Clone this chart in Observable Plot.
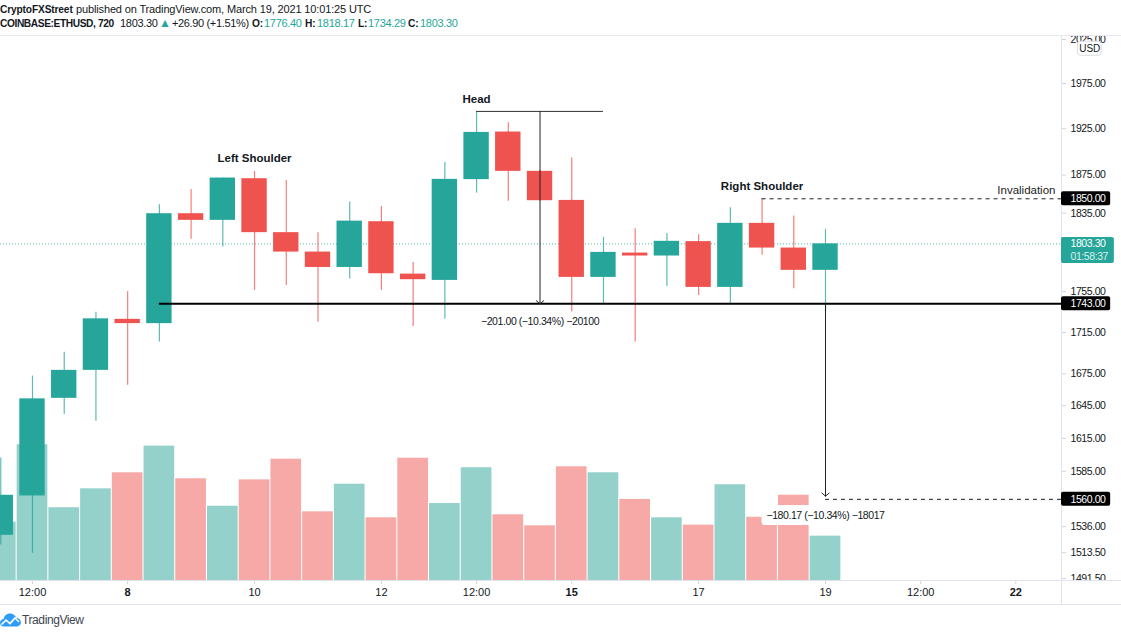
<!DOCTYPE html>
<html>
<head>
<meta charset="utf-8">
<script src="https://cdn.jsdelivr.net/npm/d3@7"></script>
<script src="https://cdn.jsdelivr.net/npm/@observablehq/plot@0.6"></script>
<style>
html,body{margin:0;padding:0;background:#fff;width:1121px;height:632px;overflow:hidden;font-family:"Liberation Sans",sans-serif;color:#131722}
#head{height:35px;border-bottom:1px solid #e6e8ee;font-size:11px;line-height:15px;white-space:nowrap;position:relative}
#head span{position:absolute;letter-spacing:-.3px}
#head b{font-weight:700;font-size:10.2px;letter-spacing:-.15px}
#head .c b{letter-spacing:-.4px}
#head .t{color:#26a69a}
#chart{height:568px}
#chart svg{display:block}
#chart [font-size="10.5"]{letter-spacing:-.42px}
#foot{height:27px;border-top:1px solid #e0e3eb;position:relative;font-size:12px;letter-spacing:-.4px;color:#3d4450}
#foot svg{position:absolute;left:0;top:8px}
#foot span{position:absolute;left:22px;top:8px}
</style>
</head>
<body>
<div id="head">
<span style="left:0;top:2px"><b>CryptoFXStreet</b></span>
<span style="left:76px;top:2px;letter-spacing:-.14px">published on TradingView.com, March 19, 2021 10:01:25 UTC</span>
<span class="c" style="left:0;top:16px"><b>COINBASE:ETHUSD, 720</b></span>
<span style="left:120px;top:16px">1803.30</span>
<span class="t" style="left:159px;top:16px;font-size:12px;letter-spacing:0">▲</span>
<span style="left:172px;top:16px;letter-spacing:-.35px">+26.90 (+1.51%)</span>
<span style="left:252px;top:16px"><b>O:</b></span><span class="t" style="left:264px;top:16px">1776.40</span>
<span style="left:305px;top:16px"><b>H:</b></span><span class="t" style="left:317px;top:16px">1818.17</span>
<span style="left:358px;top:16px"><b>L:</b></span><span class="t" style="left:368px;top:16px">1734.29</span>
<span style="left:408px;top:16px"><b>C:</b></span><span class="t" style="left:420px;top:16px">1803.30</span>
</div>
<div id="chart"></div>
<div id="foot">
<svg width="21" height="14" viewBox="0 0 21 14"><path d="M4 13.5C1.6 13.5 0 11.8 0 9.7 0 7.6 1.6 6 3.6 5.9 4.2 2.6 6.8.5 10 .5c3 0 5.3 1.7 6.2 4.2 2.7.2 4.8 2.3 4.8 4.6 0 2.4-2 4.2-4.5 4.2z" fill="#2f9df4"/><path d="M1.5 11.5l4.5-4.3 4 3.4 5-5.6 4 4" fill="none" stroke="#fff" stroke-width="1.6"/></svg>
<span>TradingView</span>
</div>
<script>
const green = "#26a69a", red = "#ef5350", greenVol = "#93d1ca", redVol = "#f7a9a7";
const firstCandle = Date.UTC(2021, 2, 6, 0, 0);
const opens  = [1528.5,1563.0,1652.0,1678.4,1727.7,1723.5,1834.4,1827.5,1871.2,1814.8,1794.9,1779.3,1826.1,1772.6,1766.3,1870.2,1921.4,1879.0,1848.3,1769.3,1793.9,1790.9,1805.6,1759.3,1824.4,1799.0,1776.40];
const highs  = [1597.0,1673.0,1695.7,1734.6,1755.3,1843.8,1859.9,1872.0,1879.0,1869.4,1814.8,1846.6,1842.0,1784.3,1888.5,1944.0,1931.6,1880.0,1893.3,1810.0,1818.9,1813.8,1812.7,1840.7,1850.0,1831.9,1818.17];
const lows   = [1520.0,1513.0,1637.0,1630.6,1664.2,1705.6,1807.9,1800.0,1756.3,1761.3,1724.8,1767.6,1756.3,1720.8,1727.7,1856.0,1847.3,1847.5,1735.0,1743.4,1705.6,1760.3,1751.3,1742.2,1791.6,1758.0,1734.29];
const closes = [1563.6,1651.5,1678.4,1728.2,1723.5,1834.4,1827.5,1871.9,1814.8,1794.9,1779.3,1826.7,1773.0,1767.0,1870.5,1921.0,1879.0,1848.0,1769.3,1794.6,1790.9,1805.9,1759.3,1824.4,1799.0,1776.4,1803.30];
const volumes = [42.9,99.8,53.5,67.4,79.2,98.8,74.8,54.6,74.0,89.2,50.5,70.8,46.1,89.9,56.6,82.9,48.3,40.2,83.6,79.2,59.6,46.1,40.7,70.4,46.5,62.7,32.6];
const axisPrices = [2025,1975,1925,1875,1835,1755,1715,1675,1645,1615,1585,1536,1513.5,1491.5];
const tickDates = ["2021-03-06T12:00Z","2021-03-10T00:00Z","2021-03-12T00:00Z","2021-03-13T12:00Z","2021-03-17T00:00Z","2021-03-19T00:00Z","2021-03-20T12:00Z"].map(d=>new Date(d));
const tickLabels = ["12:00","10","12","12:00","17","19","12:00"];
const boldDates = ["2021-03-08T00:00Z","2021-03-15T00:00Z","2021-03-22T00:00Z"].map(d=>new Date(d));
const boldLabels = ["8","15","22"];

const H = 3600e3;
const at = (h) => new Date(firstCandle + h * H);              // hours from the first candle's open
const yBase = 1489.8, yTop = 2028.4, yFoot = 1469.6;
const volumeFull = 1609.3;                                     // lower pane: volume 100 sits at this height
const volPrice = (v) => yBase * Math.pow(volumeFull / yBase, v / 100);
const hLeft = -0.106, hAxis = 401.28, hEdge = 424;
const axisTime = at(hAxis), edgeTime = at(hEdge);

const candles = opens.map((o, i) => ({
  h: i * 12, o, c: closes[i], hi: highs[i], lo: lows[i], v: volumes[i], up: closes[i] >= o
}));
const tags = [
  {price:1850, label:"1850.00", w:18.6},
  {price:1743, label:"1743.00", w:18.6},
  {price:1560, label:"1560.00", w:18.6}
];
const notes = [
  {h:96, p:1892.5, s:"Left Shoulder"},
  {h:180, p:1957.9, s:"Head"},
  {h:288, p:1863, s:"Right Shoulder"}
];

const chart = Plot.plot({
  width: 1121, height: 568, marginTop: 0, marginBottom: 24, marginLeft: 0, marginRight: 60,
  style: {fontFamily: '"Liberation Sans",sans-serif', background: "white", color: "#131722"},
  x: {type: "utc", domain: [at(hLeft), axisTime]},
  y: {type: "log", domain: [yBase, yTop]},
  marks: [
    // volume pane
    Plot.rect(candles, {x1: d => at(d.h - 5.8), x2: d => at(d.h + 5.8), y1: yBase, y2: d => volPrice(d.v), fill: d => d.up ? greenVol : redVol}),
    // measure label's white backing
    Plot.rect([1545.7], {x1: at(288), x2: at(336.6), y1: d => d, y2: d => d, insetTop: -10, insetBottom: -10, fill: "white", rx: 3}),
    // last price line
    Plot.ruleY([1803.3], {x1: at(hLeft), x2: axisTime, stroke: green, strokeDasharray: "1,2", strokeWidth: 1, strokeOpacity: .8}),
    // wicks and bodies
    Plot.ruleX(candles, {x: d => at(d.h), y1: "lo", y2: "hi", stroke: d => d.up ? green : red, strokeWidth: 1.2, strokeOpacity: .75}),
    Plot.rect(candles, {x1: d => at(d.h - 4.8), x2: d => at(d.h + 4.8), y1: d => Math.min(d.o, d.c), y2: d => Math.max(d.o, d.c), fill: d => d.up ? green : red}),
    // neckline and targets
    Plot.ruleY([1743], {x1: at(60), x2: axisTime, stroke: "#000", strokeWidth: 2}),
    Plot.ruleY([1944], {x1: at(180), x2: at(228), stroke: "#333", strokeWidth: 1}),
    Plot.arrow([0], {x1: at(204), x2: at(204), y1: 1944, y2: 1743, stroke: "#222", strokeWidth: 1, headLength: 7, headAngle: 100, bend: false}),
    Plot.arrow([0], {x1: at(312), x2: at(312), y1: 1743, y2: 1562.83, stroke: "#222", strokeWidth: 1, headLength: 7, headAngle: 100, bend: false}),
    Plot.ruleY([1850], {x1: at(288), x2: axisTime, stroke: "#222", strokeWidth: 1, strokeDasharray: "4,4"}),
    Plot.ruleY([1560], {x1: at(312), x2: axisTime, stroke: "#222", strokeWidth: 1, strokeDasharray: "4,4"}),
    // annotations
    Plot.text(notes, {x: d => at(d.h), y: "p", text: "s", fontSize: 11.5, fontWeight: 700, fill: "#131722"}),
    Plot.text(["Invalidation"], {x: at(399), y: 1859, text: d => d, textAnchor: "end", fontSize: 11.5, fill: "#222"}),
    Plot.text(["−201.00 (−10.34%) −20100"], {x: at(204), y: 1725, text: d => d, fontSize: 10.5, fill: "#131722"}),
    Plot.text(["−180.17 (−10.34%) −18017"], {x: at(312), y: 1545.7, text: d => d, fontSize: 10.5, fill: "#131722"}),
    // price axis
    Plot.axisY({anchor: "right", ticks: axisPrices, label: null, tickSize: 4, tickPadding: 5, tickFormat: d3.format(".2f"), stroke: "#d1d4dc", fill: "#131722", fontSize: 10.5}),
    Plot.rect([0], {x1: axisTime, x2: edgeTime, y1: yBase, y2: yFoot, fill: "white"}),
    // time axis
    Plot.axisX({anchor: "bottom", ticks: tickDates, label: null, tickSize: 4, tickPadding: 4, tickFormat: d => tickLabels[tickDates.findIndex(t => +t === +d)], stroke: "#d1d4dc", fill: "#131722", fontSize: 11}),
    Plot.axisX({anchor: "bottom", ticks: boldDates, label: null, tickSize: 4, tickPadding: 4, tickFormat: d => boldLabels[boldDates.findIndex(t => +t === +d)], stroke: "#d1d4dc", fill: "#131722", fontSize: 11, fontWeight: 700}),
    // frame lines
    Plot.ruleX([axisTime], {y1: yFoot, y2: yTop, stroke: "#e0e3eb"}),
    Plot.ruleY([yBase], {x1: at(hLeft), x2: edgeTime, stroke: "#e0e3eb"}),
    // USD box
    Plot.rect([2014.4], {x1: at(hAxis + 6.2), x2: at(hAxis + 15.2), y1: d => d, y2: d => d, insetTop: -7, insetBottom: -7, fill: "white", stroke: "#d8dbe3", rx: 3}),
    Plot.text(["USD"], {x: at(hAxis + 10.7), y: 2014.4, text: d => d, fontSize: 10, fill: "#131722"}),
    // price tags
    Plot.rect(tags, {x1: axisTime, x2: d => at(hAxis + d.w), y1: "price", y2: "price", insetTop: -7, insetBottom: -7, fill: "#000", rx: 2}),
    Plot.text(tags, {x: axisTime, y: "price", dx: 9, text: "label", textAnchor: "start", fill: "white", fontSize: 10.5}),
    Plot.rect([1796.5], {x1: axisTime, x2: at(hAxis + 20), y1: d => d, y2: d => d, insetTop: -13, insetBottom: -13, fill: green, rx: 2}),
    Plot.text(["1803.30"], {x: axisTime, y: 1803.3, dx: 9, text: d => d, textAnchor: "start", fill: "white", fontSize: 10.5}),
    Plot.text(["01:58:37"], {x: axisTime, y: 1790.5, dx: 9, text: d => d, textAnchor: "start", fill: "#d6f0ed", fontSize: 10.5})
  ]
});
document.getElementById("chart").appendChild(chart);
</script>
</body>
</html>
